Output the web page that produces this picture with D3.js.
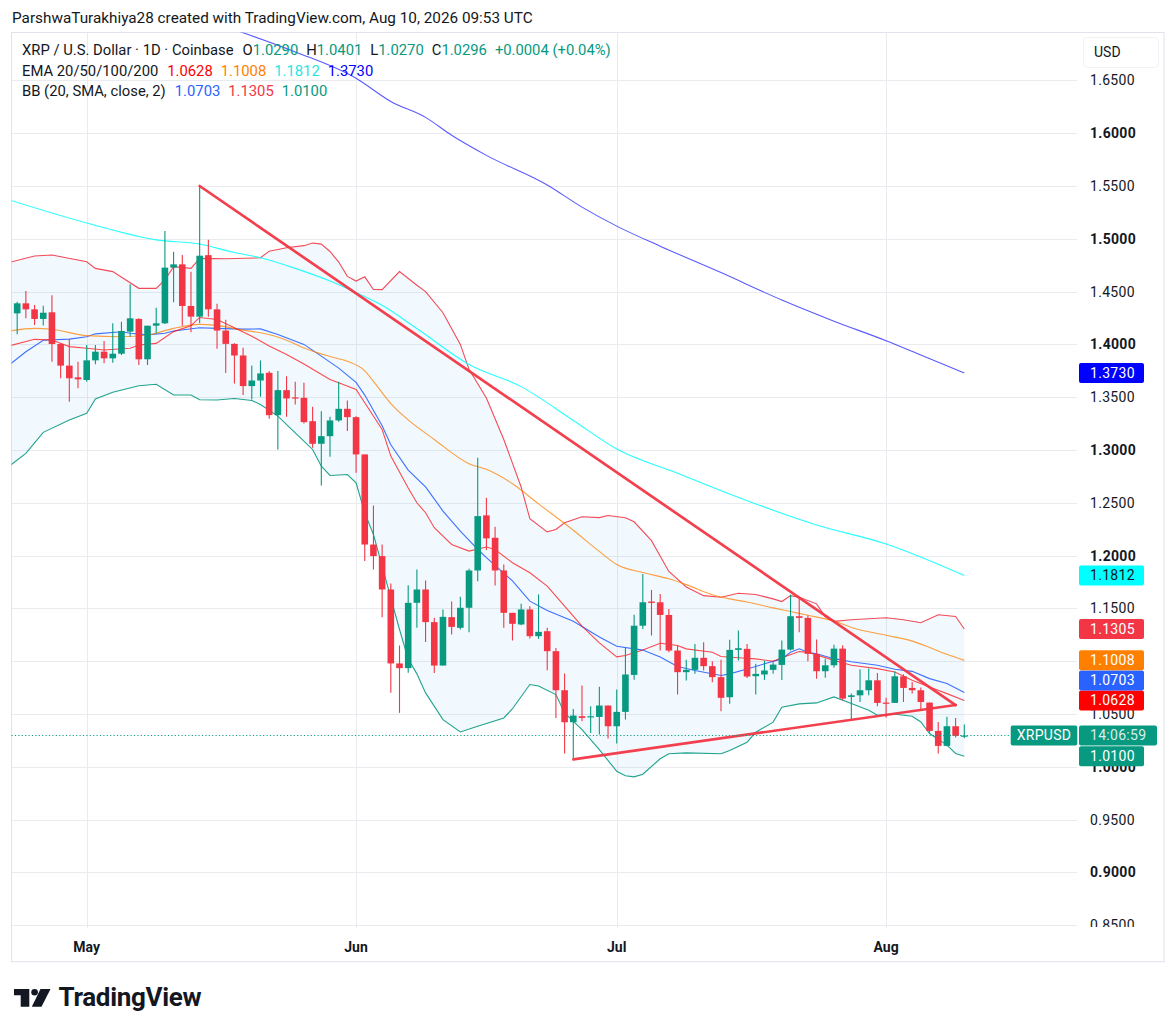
<!DOCTYPE html>
<html>
<head>
<meta charset="utf-8">
<script src="https://cdn.jsdelivr.net/npm/d3@7"></script>
<style>
  html, body { margin: 0; padding: 0; background: #fff; }
  svg { display: block; font-family: Roboto, "Noto Sans", sans-serif; }
</style>
</head>
<body>
<svg id="chart" width="1176" height="1034"></svg>
<script>
// daily candles, first one on Apr 23 2026
const firstDay = "2026-04-23";
const opens = [1.4294,1.4389,1.4332,1.4241,1.4304,1.4004,1.3799,1.3688,
  1.3663,1.3849,1.3931,1.3868,1.3912,1.4121,1.4241,1.3859,1.4177,1.4200,
  1.4727,1.4758,1.4364,1.4263,1.4845,1.4332,1.4131,1.4005,1.3895,1.3605,
  1.3658,1.3731,1.3330,1.3567,1.3498,1.3494,1.3273,1.3059,1.3131,1.3280,1.3390,
  1.3311,1.2958,1.2105,1.1995,1.1679,1.0979,1.0934,1.1553,1.1679,1.1370,
  1.0959,1.1417,1.1316,1.1506,1.1859,1.2381,1.2169,1.1859,1.1458,1.1348,
  1.1490,1.1237,1.1284,1.1095,1.0725,1.0422,1.0479,1.0473,1.0472,1.0580,
  1.0384,1.0520,1.0870,1.1336,1.1565,1.1558,1.1438,1.1101,1.0896,1.0918,
  1.1032,1.0953,1.0849,1.0659,1.1107,1.1117,1.0858,1.0874,1.0918,1.0965,
  1.1110,1.1426,1.1410,1.1069,1.0905,1.0961,1.1119,1.0662,1.0677,1.0725,1.0819,
  1.0608,1.0605,1.0857,1.0747,1.0725,1.0608,1.0340,1.0198,1.0384,1.0290];
const highs = [1.4405,1.4506,1.4373,1.4367,1.4465,1.4010,1.4051,1.3836,
  1.3994,1.3994,1.4032,1.4200,1.4215,1.4569,1.4247,1.4177,1.4348,1.5074,
  1.4878,1.4847,1.4689,1.5500,1.4992,1.4385,1.4233,1.4012,1.3968,1.3801,
  1.3848,1.3747,1.3747,1.3699,1.3646,1.3636,1.3409,1.3368,1.3314,1.3646,1.3469,
  1.3320,1.2958,1.2475,1.2105,1.1736,1.1149,1.1720,1.1869,1.1765,1.1411,
  1.1490,1.1566,1.1610,1.1875,1.2927,1.2548,1.2273,1.1916,1.1458,1.1543,
  1.1521,1.1632,1.1316,1.1126,1.0883,1.0548,1.0769,1.0573,1.0757,1.0580,
  1.0732,1.1126,1.1440,1.1826,1.1675,1.1637,1.1495,1.1148,1.1013,1.1164,
  1.1180,1.1000,1.1013,1.1202,1.1290,1.1164,1.0975,1.1006,1.0991,1.1196,
  1.1631,1.1590,1.1432,1.1205,1.1024,1.1156,1.1150,1.0693,1.0923,1.0930,1.0889,
  1.0655,1.0904,1.0876,1.0803,1.0750,1.0608,1.0425,1.0473,1.0463,1.0401];
const lows = [1.4095,1.4247,1.4184,1.4178,1.3836,1.3679,1.3458,1.3584,
  1.3647,1.3811,1.3821,1.3827,1.3900,1.4073,1.3805,1.3805,1.4105,1.4193,
  1.4398,1.4177,1.4114,1.4200,1.4261,1.3958,1.3728,1.3630,1.3520,1.3479,
  1.3504,1.3295,1.3005,1.3314,1.3431,1.3251,1.3021,1.2664,1.2936,1.3267,1.3179,
  1.2784,1.1948,1.1869,1.1417,1.0701,1.0511,1.0890,1.1316,1.1183,1.0889,
  1.0959,1.1253,1.1300,1.1275,1.1758,1.2052,1.1717,1.1316,1.1196,1.1341,
  1.1215,1.1212,1.0915,1.0463,1.0125,1.0084,1.0431,1.0321,1.0305,1.0267,
  1.0220,1.0447,1.0825,1.1306,1.1243,1.1101,1.1085,1.0685,1.0817,1.0880,
  1.0912,1.0801,1.0527,1.0596,1.1006,1.0842,1.0685,1.0823,1.0880,1.0823,
  1.1101,1.1274,1.1000,1.0833,1.0844,1.0939,1.0630,1.0447,1.0614,1.0677,1.0573,
  1.0466,1.0605,1.0614,1.0693,1.0529,1.0321,1.0126,1.0195,1.0277,1.0270];
const closes = [1.4389,1.4332,1.4241,1.4300,1.4004,1.3799,1.3679,1.3669,
  1.3849,1.3931,1.3868,1.3912,1.4127,1.4247,1.3859,1.4177,1.4200,1.4727,
  1.4758,1.4364,1.4263,1.4840,1.4332,1.4131,1.4005,1.3895,1.3605,1.3658,
  1.3725,1.3330,1.3567,1.3488,1.3491,1.3264,1.3059,1.3131,1.3280,1.3390,1.3311,
  1.2958,1.2105,1.1995,1.1679,1.0979,1.0934,1.1553,1.1679,1.1370,1.0959,
  1.1420,1.1325,1.1506,1.1859,1.2374,1.2163,1.1859,1.1458,1.1354,1.1490,
  1.1237,1.1278,1.1095,1.0725,1.0422,1.0485,1.0463,1.0479,1.0580,1.0384,
  1.0520,1.0874,1.1336,1.1558,1.1552,1.1438,1.1101,1.0896,1.0918,1.1032,
  1.0953,1.0849,1.0653,1.1107,1.1123,1.0855,1.0880,1.0912,1.0968,1.1110,
  1.1426,1.1410,1.1069,1.0905,1.0961,1.1119,1.0646,1.0677,1.0725,1.0819,1.0605,
  1.0599,1.0857,1.0747,1.0725,1.0614,1.0340,1.0198,1.0384,1.0293,1.0296];

// indicator lines: [days after May 1, value]
const ema20 = [[-9,1.3985],[-6,1.4048],[-4,1.4042],[-2,1.3979],[0,1.3963],[2,1.3947],[5,1.3963],[6,1.3994],[8,1.4010],[10,1.4121],[12,1.4177],[13,1.4255],[15,1.4236],[17,1.4157],[19,1.4078],[21,1.3984],[23,1.3905],[25,1.3815],[28,1.3668],[29,1.3636],[31,1.3573],[32,1.3447],[34,1.3194],[35,1.2942],[37,1.2640],[38,1.2500],[39,1.2406],[40,1.2264],[42,1.2106],[44,1.2043],[46,1.2081],[47,1.2058],[49,1.1932],[51,1.1837],[53,1.1711],[55,1.1521],[57,1.1332],[59,1.1174],[61,1.1041],[62,1.1054],[64,1.1107],[66,1.1170],[68,1.1148],[69,1.1117],[72,1.1085],[73,1.1044],[75,1.1032],[77,1.1022],[79,1.1000],[80,1.1032],[82,1.1091],[83,1.1085],[86,1.1008],[88,1.0961],[91,1.0930],[93,1.0898],[95,1.0819],[97,1.0756],[99,1.0693],[101,1.0628]];
const ema50 = [[-9,1.4125],[-6,1.4152],[-4,1.4143],[0,1.4083],[4,1.4073],[7,1.4089],[10,1.4152],[13,1.4190],[15,1.4180],[18,1.4135],[20,1.4110],[23,1.4040],[25,1.3965],[28,1.3885],[30,1.3840],[32,1.3750],[33,1.3650],[35,1.3440],[37,1.3285],[40,1.3100],[44,1.2870],[46,1.2817],[49,1.2680],[52,1.2490],[56,1.2240],[59,1.2040],[61,1.1916],[64,1.1840],[67,1.1780],[69,1.1725],[72,1.1630],[74,1.1590],[76,1.1560],[79,1.1505],[81,1.1470],[83,1.1435],[86,1.1380],[88,1.1320],[92,1.1245],[95,1.1190],[97,1.1130],[99,1.1065],[101,1.1008]];
const ema100 = [[-9,1.5370],[0,1.5150],[8,1.4990],[13,1.4950],[17,1.4870],[20,1.4820],[24,1.4720],[28,1.4600],[31,1.4490],[34,1.4370],[38,1.4150],[44,1.3810],[50,1.3600],[56,1.3280],[61,1.3010],[68,1.2780],[76,1.2520],[84,1.2290],[92,1.2110],[101,1.1812]];
const ema200 = [[17,1.6980],[24,1.6770],[31,1.6520],[35,1.6300],[39,1.6150],[42,1.5980],[46,1.5790],[53,1.5510],[57,1.5300],[61,1.5120],[66,1.4930],[73,1.4680],[80,1.4420],[86,1.4220],[92,1.4035],[96,1.3900],[101,1.3730]];
const bbBasis = [[-9,1.3800],[-7,1.3930],[-5,1.4040],[-2,1.4050],[0,1.4073],[1,1.4100],[4,1.4120],[5,1.4105],[7,1.4090],[9,1.4105],[10,1.4127],[13,1.4158],[15,1.4152],[18,1.4145],[20,1.4147],[22,1.4094],[25,1.4000],[27,1.3889],[29,1.3775],[31,1.3640],[32,1.3520],[34,1.3230],[35,1.3050],[37,1.2810],[39,1.2650],[41,1.2422],[43,1.2232],[45,1.2060],[46,1.1980],[49,1.1760],[51,1.1569],[53,1.1480],[56,1.1379],[59,1.1230],[61,1.1142],[64,1.1105],[66,1.1040],[68,1.0950],[70,1.0912],[73,1.0864],[74,1.0880],[76,1.0927],[78,1.0975],[80,1.1022],[81,1.1085],[82,1.1117],[83,1.1085],[84,1.1071],[86,1.1024],[88,1.0995],[91,1.0961],[93,1.0923],[95,1.0904],[97,1.0835],[99,1.0788],[101,1.0703]];
const bbUpper = [[-9,1.4774],[-6,1.4837],[-4,1.4847],[0,1.4783],[1,1.4720],[3,1.4689],[6,1.4531],[8,1.4531],[9,1.4610],[10,1.4736],[12,1.4720],[13,1.4815],[16,1.4811],[20,1.4820],[21,1.4883],[23,1.4915],[25,1.4935],[26,1.4960],[27,1.4950],[28,1.4880],[29,1.4780],[30,1.4644],[31,1.4600],[32,1.4640],[33,1.4520],[34,1.4519],[36,1.4690],[38,1.4560],[39,1.4500],[41,1.4300],[43,1.4000],[44,1.3764],[46,1.3493],[48,1.3100],[50,1.2650],[51,1.2350],[53,1.2225],[54,1.2248],[55,1.2311],[57,1.2368],[59,1.2360],[60,1.2380],[62,1.2359],[63,1.2320],[65,1.2142],[67,1.1850],[69,1.1703],[71,1.1621],[73,1.1606],[75,1.1644],[77,1.1631],[79,1.1590],[80,1.1565],[81,1.1621],[82,1.1606],[84,1.1543],[85,1.1420],[86,1.1377],[88,1.1393],[92,1.1412],[94,1.1393],[96,1.1364],[98,1.1440],[100,1.1424],[101,1.1305]];
const bbLower = [[-9,1.2842],[-7,1.2968],[-5,1.3167],[-2,1.3284],[0,1.3347],[1,1.3483],[3,1.3546],[6,1.3609],[8,1.3622],[10,1.3521],[12,1.3521],[13,1.3476],[15,1.3473],[17,1.3488],[19,1.3469],[20,1.3431],[22,1.3321],[24,1.3163],[26,1.3005],[27,1.2847],[28,1.2759],[30,1.2768],[31,1.2689],[32,1.2405],[33,1.2200],[34,1.1900],[35,1.1600],[36,1.1300],[37,1.1020],[38,1.0880],[39,1.0700],[41,1.0447],[43,1.0330],[45,1.0384],[48,1.0463],[49,1.0550],[51,1.0779],[52,1.0765],[54,1.0684],[55,1.0510],[57,1.0352],[59,1.0163],[61,0.9957],[62,0.9915],[63,0.9905],[64,0.9930],[66,1.0076],[67,1.0123],[69,1.0132],[73,1.0123],[74,1.0155],[76,1.0233],[77,1.0328],[79,1.0423],[80,1.0565],[82,1.0596],[84,1.0605],[86,1.0662],[88,1.0599],[90,1.0536],[91,1.0488],[93,1.0498],[95,1.0479],[96,1.0425],[97,1.0315],[99,1.0205],[100,1.0126],[101,1.0100]];

// drawn trend lines: [days after May 1, price]
const upperTrend = [[13,1.5500],[100,1.0585]];
const lowerTrend = [[56,1.0071],[100,1.0585]];

const lastPrice = 1.0296;
const priceTicks = d3.range(17).map(i => 0.85 + i * 0.05);
const monthTicks = ["2026-05-01","2026-06-01","2026-07-01","2026-08-01"];
const monthLabels = ["May","Jun","Jul","Aug"];

const green = "#089981", red = "#F23645", ink = "#131722";
const colEma20 = "#FF0000", colEma50 = "#FF8000", colEma100 = "#00FFFF", colEma200 = "#0000FF";
const colBasis = "#2962FF";

const svg = d3.select("#chart");
const W = 1176, H = 1034;
const plot = { left: 11.5, right: 1077, top: 32.5, bottom: 928 };

const may1 = new Date(Date.UTC(2026, 4, 1));
const x = d3.scaleUtc()
  .domain([may1, new Date(Date.UTC(2026, 7, 1))])
  .range([86.7, 886.1]);
const y = d3.scaleLinear().domain([0.85, 1.65]).range([925.2, 80.4]);

const dayX = d => x(d3.utcDay.offset(may1, d));

svg.append("rect").attr("width", W).attr("height", H).attr("fill", "#fff");

// header
svg.append("text")
  .attr("x", 12).attr("y", 18).attr("dy", "0.35em")
  .attr("fill", ink).style("font-size", "15.3px")
  .text("ParshwaTurakhiya28 created with TradingView.com, Aug 10, 2026 09:53 UTC");

// frame
svg.append("rect")
  .attr("x", 11.5).attr("y", 32.5).attr("width", 1152.5).attr("height", 929.2)
  .attr("fill", "none").attr("stroke", "#E0E3EB");

svg.append("clipPath").attr("id", "plotClip")
  .append("rect").attr("x", plot.left).attr("y", plot.top)
  .attr("width", plot.right - plot.left).attr("height", plot.bottom - plot.top);
svg.append("clipPath").attr("id", "axisClip")
  .append("rect").attr("x", plot.right).attr("y", plot.top)
  .attr("width", 1164 - plot.right).attr("height", plot.bottom - 1 - plot.top);

// grid
const grid = svg.append("g").attr("stroke", "#E9EBEF").attr("stroke-width", 1);
grid.selectAll("line.h").data(priceTicks).join("line")
  .attr("x1", plot.left).attr("x2", plot.right)
  .attr("y1", d => Math.round(y(d)) + 0.5).attr("y2", d => Math.round(y(d)) + 0.5);
grid.selectAll("line.v").data(monthTicks).join("line")
  .attr("x1", d => Math.round(x(new Date(d))) + 0.5).attr("x2", d => Math.round(x(new Date(d))) + 0.5)
  .attr("y1", plot.top).attr("y2", plot.bottom);

const g = svg.append("g").attr("clip-path", "url(#plotClip)");

const line = d3.line().x(p => dayX(p[0])).y(p => y(p[1]));
const smooth = d3.line().x(p => dayX(p[0])).y(p => y(p[1])).curve(d3.curveMonotoneX);

// bollinger band fill
const bandPts = bbUpper.concat(bbLower.slice().reverse());
g.append("path").attr("d", line(bandPts) + "Z")
  .attr("fill", "rgba(33,150,243,0.06)").attr("stroke", "none");

// indicator lines
const series = [
  [bbUpper, red, 0.9, line],
  [bbLower, green, 0.9, line],
  [bbBasis, colBasis, 0.9, line],
  [ema100, colEma100, 0.85, smooth],
  [ema200, colEma200, 0.65, smooth],
  [ema50, colEma50, 0.75, smooth],
  [ema20, colEma20, 0.7, line]
];
series.forEach(([pts, col, op, gen]) => {
  g.append("path").attr("d", gen(pts))
    .attr("fill", "none").attr("stroke", col)
    .attr("stroke-opacity", op).attr("stroke-width", 1.1);
});

// candles
const candles = opens.map((o, i) => ({
  date: d3.utcDay.offset(new Date(firstDay + "T00:00:00Z"), i),
  o, h: highs[i], l: lows[i], c: closes[i]
}));
const bodyW = 6.6;
const cg = g.append("g");
cg.selectAll("line").data(candles).join("line")
  .attr("x1", d => x(d.date)).attr("x2", d => x(d.date))
  .attr("y1", d => y(d.h)).attr("y2", d => y(d.l))
  .attr("stroke", d => d.c >= d.o ? green : red).attr("stroke-width", 1.1);
cg.selectAll("rect").data(candles).join("rect")
  .attr("x", d => x(d.date) - bodyW / 2).attr("width", bodyW)
  .attr("y", d => y(Math.max(d.o, d.c)))
  .attr("height", d => Math.max(1.2, Math.abs(y(d.o) - y(d.c))))
  .attr("fill", d => d.c >= d.o ? green : red);

// trend lines
[upperTrend, lowerTrend].forEach(t => {
  g.append("path").attr("d", line(t))
    .attr("fill", "none").attr("stroke", red).attr("stroke-width", 2.7)
    .attr("stroke-linecap", "round").attr("stroke-opacity", 0.95);
});

// last price dotted line
svg.append("line")
  .attr("x1", plot.left).attr("x2", plot.right)
  .attr("y1", y(lastPrice)).attr("y2", y(lastPrice))
  .attr("stroke", green).attr("stroke-width", 1).attr("stroke-dasharray", "1.2 2.2");

// legend
const legend = svg.append("g").style("font-size", "14.8px");
function legendRow(yy, parts) {
  const t = legend.append("text").attr("x", 22).attr("y", yy).attr("dy", "0.35em");
  parts.forEach((p, i) => {
    t.append("tspan").attr("fill", p[1]).attr("dx", i === 0 ? 0 : p[2]).text(p[0]);
  });
}
legendRow(50, [
  ["XRP / U.S. Dollar · 1D · Coinbase", ink],
  ["O", ink, 9], ["1.0290", green, 0],
  ["H", ink, 8], ["1.0401", green, 0],
  ["L", ink, 8], ["1.0270", green, 0],
  ["C", ink, 8], ["1.0296", green, 0],
  ["+0.0004 (+0.04%)", green, 8]
]);
legendRow(71, [
  ["EMA 20/50/100/200", ink],
  ["1.0628", colEma20, 9], ["1.1008", "#FF7F00", 8],
  ["1.1812", "#1EE6E6", 8], ["1.3730", colEma200, 8]
]);
legendRow(91, [
  ["BB (20, SMA, close, 2)", ink],
  ["1.0703", colBasis, 9], ["1.1305", red, 8], ["1.0100", green, 8]
]);

// time axis
svg.append("g").selectAll("text").data(monthTicks).join("text")
  .attr("x", d => x(new Date(d))).attr("y", 947).attr("dy", "0.35em")
  .attr("text-anchor", "middle").attr("fill", ink)
  .style("font-size", "14px").style("font-weight", "700")
  .text((d, i) => monthLabels[i]);

// price axis
const axisFont = { size: "14px", spacing: "0.3px" };
const ax = svg.append("g").attr("clip-path", "url(#axisClip)");
ax.selectAll("text").data(priceTicks).join("text")
  .attr("x", 1090).attr("y", d => y(d)).attr("dy", "0.35em")
  .attr("fill", ink).style("font-size", axisFont.size).style("letter-spacing", axisFont.spacing)
  .style("font-weight", d => Math.round(d * 100) % 10 === 0 ? "700" : "400")
  .text(d => d.toFixed(4));

// USD box
svg.append("rect").attr("x", 1083.5).attr("y", 37.5).attr("width", 75).attr("height", 30)
  .attr("rx", 4).attr("fill", "#fff").attr("stroke", "#F0F2F5");
svg.append("text").attr("x", 1094).attr("y", 52).attr("dy", "0.35em")
  .attr("fill", ink).style("font-size", "14px").text("USD");

// value labels on the price axis
const tags = [
  { v: 1.0100, bg: green, fg: "#fff" },
  { v: lastPrice, bg: green, fg: "#fff", symbol: true },
  { v: 1.0628, bg: colEma20, fg: "#fff" },
  { v: 1.0703, bg: colBasis, fg: "#fff" },
  { v: 1.1008, bg: colEma50, fg: "#fff" },
  { v: 1.1305, bg: red, fg: "#fff" },
  { v: 1.1812, bg: colEma100, fg: ink },
  { v: 1.3730, bg: colEma200, fg: "#fff" }
];
let prev = Infinity;
tags.forEach(t => {
  t.cy = Math.min(y(t.v), prev - 20);
  prev = t.cy;
});
const tagG = svg.append("g").style("font-size", axisFont.size).style("letter-spacing", axisFont.spacing);
tags.forEach(t => {
  if (t.symbol) {
    tagG.append("rect").attr("x", 1010.7).attr("y", t.cy - 10).attr("width", 66.6).attr("height", 20)
      .attr("rx", 2).attr("fill", t.bg);
    tagG.append("text").attr("x", 1044).attr("y", t.cy).attr("dy", "0.35em")
      .attr("text-anchor", "middle").attr("fill", "#fff").text("XRPUSD");
    tagG.append("rect").attr("x", 1079).attr("y", t.cy - 10).attr("width", 78).attr("height", 20)
      .attr("rx", 2).attr("fill", t.bg);
    tagG.append("text").attr("x", 1090).attr("y", t.cy).attr("dy", "0.35em")
      .attr("fill", "#fff").attr("fill-opacity", 0.85).text("14:06:59");
  } else {
    tagG.append("rect").attr("x", 1079).attr("y", t.cy - 10).attr("width", 65).attr("height", 20)
      .attr("rx", 2).attr("fill", t.bg);
    tagG.append("text").attr("x", 1090).attr("y", t.cy).attr("dy", "0.35em")
      .attr("fill", t.fg).text(t.v.toFixed(4));
  }
});

// TradingView logo
const logo = svg.append("g").attr("fill", ink);
logo.append("path").attr("d", "M14,989 H29.3 V1006.7 H20.7 V995.3 H14 Z");
logo.append("circle").attr("cx", 34.6).attr("cy", 992.2).attr("r", 3.3);
logo.append("path").attr("d", "M40.5,989 H50.5 L41.5,1006.7 H31.8 Z");
svg.append("text").attr("x", 58.5).attr("y", 1006)
  .attr("fill", ink).style("font-size", "26px").style("font-weight", "700")
  .style("letter-spacing", "-0.3px")
  .text("TradingView");
</script>
</body>
</html>
